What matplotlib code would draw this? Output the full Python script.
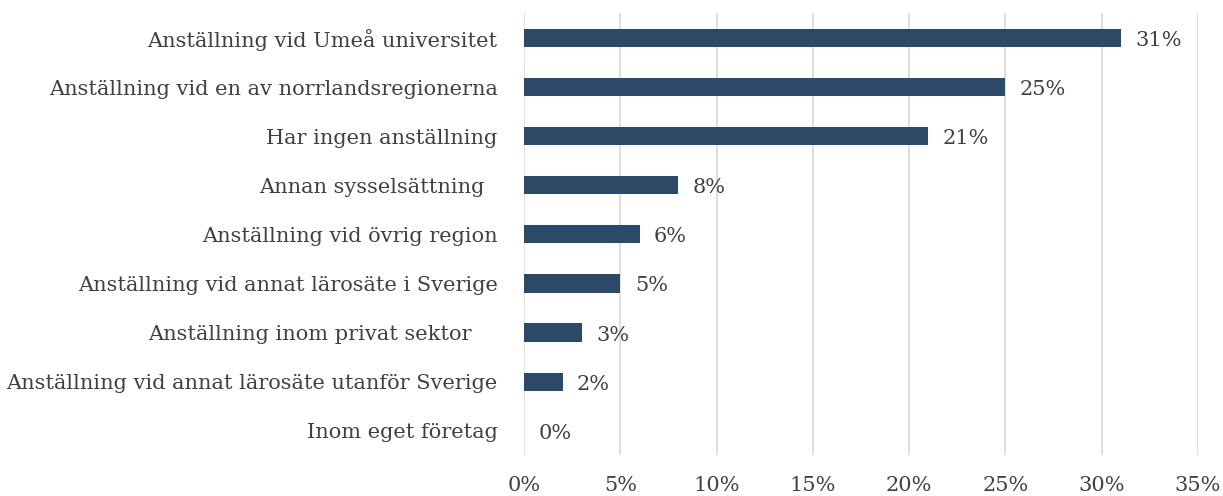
import matplotlib.pyplot as plt

categories = ["Anställning vid Umeå universitet",
              "Anställning vid en av norrlandsregionerna",
              "Har ingen anställning",
              "Annan sysselsättning  ",
              "Anställning vid övrig region",
              "Anställning vid annat lärosäte i Sverige",
              "Anställning inom privat sektor    ",
              "Anställning vid annat lärosäte utanför Sverige",
              "Inom eget företag"]
values = [31, 25, 21, 8, 6, 5, 3, 2, 0]
xticks = [0, 5, 10, 15, 20, 25, 30, 35]

plt.rcParams['font.family'] = ['DejaVu Serif']
text_color = '#404040'

fig = plt.figure(figsize=(12.23, 4.96), dpi=100)
ax = fig.add_axes([0.4285, 0.082, 0.5511, 0.891])

y = list(range(len(categories)))
ax.barh(y, values, height=0.37, color='#2C4A67', zorder=3)
for yi, v in zip(y, values):
    ax.text(v + 0.75, yi + 0.05, f"{v}%", va='center', ha='left', fontsize=15, color=text_color)

ax.set_ylim(len(categories) - 0.5, -0.5)
ax.set_xlim(0, 35)
ax.set_yticks(y)
ax.set_yticklabels(categories, fontsize=15, color=text_color)
ax.set_xticks(xticks)
ax.set_xticklabels([f"{t}%" for t in xticks], fontsize=15, color=text_color)
ax.xaxis.grid(True, color='#d9d9d9', linewidth=1.2, zorder=0)
for s in ax.spines.values():
    s.set_visible(False)
ax.tick_params(axis='both', length=0)
ax.tick_params(axis='x', pad=15)
ax.tick_params(axis='y', pad=19)

plt.savefig('out.png', dpi=100)
